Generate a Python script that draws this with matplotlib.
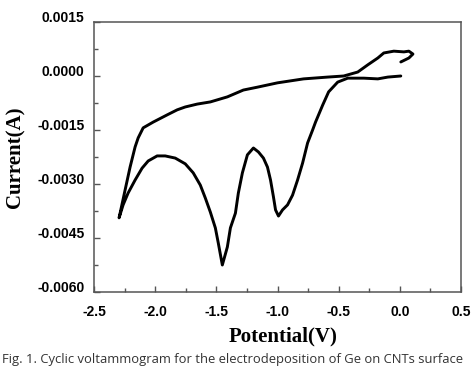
import matplotlib
matplotlib.use("Agg")
import matplotlib.pyplot as plt
import matplotlib.transforms as mtransforms
from matplotlib.ticker import MultipleLocator, FormatStrFormatter

# Cyclic voltammogram trace
# potential in V, current in mA (converted to A below)
potential = [0.008, -0.098, -0.180, -0.295, -0.426, -0.508, -0.582, -0.631,
             -0.689, -0.713, -0.754, -0.795, -0.836, -0.877, -0.918, -0.959,
             -0.992, -1.016, -1.033, -1.057, -1.082, -1.115, -1.156, -1.197,
             -1.246, -1.287, -1.320, -1.344, -1.385, -1.410, -1.451, -1.484,
             -1.508, -1.549, -1.590, -1.631, -1.689, -1.754, -1.836, -1.918,
             -1.984, -2.057, -2.107, -2.164, -2.221, -2.262, -2.295,
             -2.246, -2.205, -2.164, -2.139, -2.098, -2.016, -1.902, -1.820,
             -1.754, -1.656, -1.549, -1.410, -1.279, -1.164, -1.000, -0.787,
             -0.590, -0.459, -0.344, -0.262, -0.180, -0.131, -0.049, 0.033,
             0.074, 0.107, 0.074, 0.008]
current_mA = [0.00, -0.03, -0.08, -0.06, -0.06, -0.17, -0.44, -0.81,
              -1.28, -1.50, -1.86, -2.42, -2.89, -3.31, -3.58, -3.72,
              -3.89, -3.72, -3.36, -2.89, -2.53, -2.28, -2.11, -2.00,
              -2.19, -2.69, -3.25, -3.81, -4.22, -4.75, -5.25, -4.64,
              -4.22, -3.78, -3.39, -3.03, -2.69, -2.44, -2.28, -2.22,
              -2.22, -2.36, -2.56, -2.89, -3.25, -3.58, -3.94,
              -3.17, -2.53, -1.97, -1.72, -1.44, -1.28, -1.08, -0.94,
              -0.86, -0.78, -0.72, -0.58, -0.39, -0.31, -0.19, -0.08,
              -0.03, 0.00, 0.11, 0.31, 0.50, 0.64, 0.69, 0.67,
              0.69, 0.61, 0.50, 0.39]
current = [c * 1e-3 for c in current_mA]

xticks = [-2.5, -2.0, -1.5, -1.0, -0.5, 0.0, 0.5]
yticks = [0.0015, 0.0000, -0.0015, -0.0030, -0.0045, -0.0060]

fig = plt.figure(figsize=(4.74, 3.67), dpi=100)
ax = fig.add_axes([94/474, 1-292/367, (461-94)/474, (292-22)/367])

ax.plot(potential, current, color="black", lw=2.1, solid_joinstyle="round",
        solid_capstyle="round")

ax.set_xlim(-2.5, 0.5)
ax.set_ylim(-0.0060, 0.0015)
ax.set_xticks(xticks)
ax.set_yticks(yticks)
ax.xaxis.set_minor_locator(MultipleLocator(0.25))
ax.yaxis.set_minor_locator(MultipleLocator(0.00075))
ax.xaxis.set_major_formatter(FormatStrFormatter("%.1f"))
ax.yaxis.set_major_formatter(FormatStrFormatter("%.4f"))

spine_col = "#555555"
for s in ax.spines.values():
    s.set_color(spine_col)
    s.set_linewidth(1.1)

ax.tick_params(which="both", direction="in", colors=spine_col,
               top=False, right=False, width=1.0)
ax.tick_params(which="major", length=4.5)
ax.tick_params(which="minor", length=3)
ax.tick_params(axis="y", which="major", pad=7)
ax.tick_params(axis="x", which="major", pad=9)

for lab in ax.get_xticklabels() + ax.get_yticklabels():
    lab.set_fontfamily("Liberation Sans")
    lab.set_fontweight("bold")
    lab.set_fontsize(10)
    lab.set_color("black")

offset = mtransforms.ScaledTranslation(0, 6/100, fig.dpi_scale_trans)
for lab in ax.get_yticklabels():
    lab.set_transform(lab.get_transform() + offset)

ax.set_xlabel("Potential(V)", fontfamily="Liberation Serif", fontweight="bold",
              fontsize=15, labelpad=6)
ax.set_ylabel("Current(A)", fontfamily="Liberation Serif", fontweight="bold",
              fontsize=15, labelpad=8)
ax.xaxis.label.set_position(((283-94)/367, 0))

fig.text(0.005, 1/367, "Fig. 1. Cyclic voltammogram for the electrodeposition of Ge on CNTs surface",
         ha="left", va="bottom", fontsize=9.4, fontfamily="Open Sans", color="#333333")

fig.savefig("out.png", dpi=100)
